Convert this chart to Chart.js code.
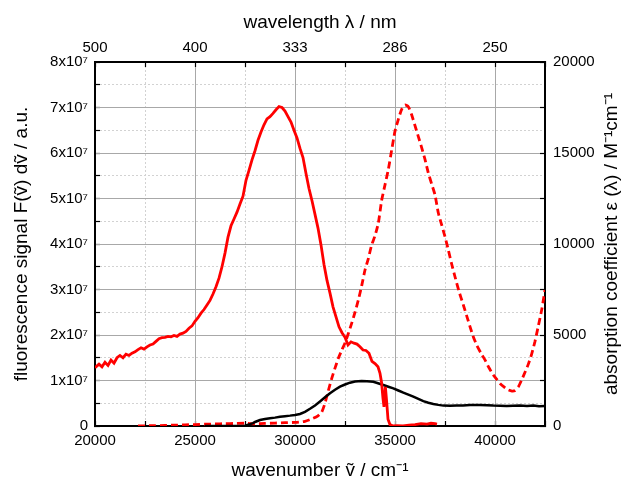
<!DOCTYPE html>
<html>
<head>
<meta charset="utf-8">
<script src="https://cdn.jsdelivr.net/npm/chart.js@4/dist/chart.umd.min.js"></script>
<style>
  body { margin: 0; background: #fff; }
  #wrap { width: 625px; height: 480px; }
</style>
</head>
<body>
<div id="wrap"><canvas id="spectraChart"></canvas></div>
<script>
// fluorescence signal (units of 1e7, left axis)
const fluorWn = [20000, 20200, 20350, 20500, 20650, 20800, 20950, 21100, 21250, 21400, 21550, 21700, 21850, 22000, 22150, 22300, 22450, 22600, 22750, 22900, 23050, 23200, 23350, 23500, 23650, 23800, 23950, 24100, 24250, 24400, 24550, 24700, 24850, 25000, 25150, 25300, 25450, 25600, 25750, 25900, 26050, 26200, 26350, 26500, 26650, 26800, 26950, 27100, 27250, 27400, 27550, 27700, 27850, 28000, 28150, 28300, 28450, 28600, 28750, 28900, 29050, 29200, 29350, 29500, 29650, 29800, 29950, 30100, 30250, 30400, 30550, 30700, 30850, 31000, 31150, 31300, 31450, 31600, 31750, 31900, 32050, 32200, 32350, 32500, 32650, 32800, 32950, 33100, 33250, 33400, 33550, 33700, 33850, 34000, 34150, 34250, 34330, 34400, 34450, 34520, 34580, 34650, 34750, 34900, 35100, 35400, 35700, 36000, 36300, 36600, 36800, 37000, 37100];
const fluorVal = [1.28, 1.36, 1.30, 1.40, 1.33, 1.45, 1.38, 1.50, 1.55, 1.50, 1.58, 1.55, 1.60, 1.63, 1.68, 1.72, 1.69, 1.74, 1.78, 1.80, 1.86, 1.92, 1.94, 1.95, 1.97, 1.96, 1.99, 1.97, 2.02, 2.04, 2.08, 2.15, 2.20, 2.30, 2.38, 2.48, 2.56, 2.66, 2.76, 2.90, 3.06, 3.25, 3.50, 3.80, 4.15, 4.40, 4.55, 4.70, 4.88, 5.05, 5.40, 5.62, 5.85, 6.05, 6.28, 6.46, 6.62, 6.75, 6.80, 6.87, 6.95, 7.02, 7.00, 6.92, 6.80, 6.68, 6.50, 6.33, 6.10, 5.90, 5.55, 5.22, 4.95, 4.65, 4.35, 3.98, 3.55, 3.20, 2.92, 2.62, 2.40, 2.18, 2.05, 1.95, 1.78, 1.85, 1.82, 1.80, 1.74, 1.67, 1.66, 1.60, 1.42, 1.37, 1.30, 1.16, 0.95, 0.60, 0.42, 0.86, 0.55, 0.15, 0.03, 0.00, 0.01, 0.00, 0.02, 0.03, 0.05, 0.04, 0.06, 0.05, 0.04];

// absorption coefficient, dashed red (right axis)
const absWn = [22150, 22500, 23000, 23500, 24000, 24500, 25000, 25500, 26000, 26500, 27000, 27500, 28000, 28500, 29000, 29500, 30000, 30500, 30900, 31150, 31333, 31500, 31667, 31833, 32000, 32167, 32333, 32500, 32667, 32833, 33000, 33167, 33333, 33500, 33667, 33833, 34000, 34167, 34333, 34500, 34667, 34833, 35000, 35167, 35333, 35500, 35667, 35833, 36000, 36167, 36333, 36500, 36667, 36833, 37000, 37167, 37333, 37500, 37667, 37833, 38000, 38200, 38417, 38600, 38750, 38900, 39083, 39300, 39500, 39700, 39917, 40100, 40250, 40450, 40667, 40850, 41000, 41167, 41333, 41500, 41667, 41833, 42000, 42167, 42333, 42500];
const absVal = [0, 10, 20, 30, 50, 60, 80, 100, 110, 130, 140, 150, 120, 140, 160, 180, 200, 260, 420, 560, 760, 1250, 1950, 2600, 3180, 3720, 4150, 4560, 5080, 5640, 6250, 6920, 7700, 8570, 9200, 9950, 10450, 11150, 12400, 13250, 14100, 15160, 16200, 16850, 17400, 17640, 17540, 17100, 16500, 15900, 15300, 14650, 13900, 13300, 12700, 11700, 11050, 10400, 9670, 8900, 8200, 7400, 6650, 6000, 5460, 4950, 4450, 4000, 3630, 3200, 2800, 2550, 2340, 2150, 1980, 1920, 1950, 2150, 2530, 2950, 3400, 3950, 4650, 5500, 6370, 7470];

// second absorption trace, black (right axis)
const blackWn = [25500, 26000, 26500, 27000, 27500, 27750, 27900, 28000, 28250, 28500, 28750, 29000, 29250, 29500, 29750, 30000, 30250, 30500, 30750, 31000, 31250, 31500, 31750, 32000, 32250, 32500, 32750, 33000, 33333, 33600, 33917, 34150, 34417, 34667, 34917, 35167, 35417, 35667, 35917, 36167, 36417, 36667, 36917, 37167, 37417, 37750, 38083, 38400, 38750, 39000, 39250, 39600, 39917, 40250, 40583, 40900, 41250, 41600, 41917, 42200, 42500];
const blackVal = [0, 0, 0, 0, 20, 100, 160, 220, 330, 380, 420, 460, 510, 540, 570, 610, 660, 780, 950, 1130, 1350, 1580, 1800, 1990, 2160, 2280, 2380, 2440, 2470, 2460, 2430, 2350, 2250, 2160, 2070, 1950, 1830, 1720, 1610, 1490, 1370, 1280, 1210, 1160, 1120, 1110, 1120, 1130, 1150, 1160, 1150, 1140, 1120, 1110, 1100, 1110, 1120, 1100, 1130, 1090, 1100];

// tick labels
const bottomTickLabels = { 20000: "20000", 25000: "25000", 30000: "30000", 35000: "35000", 40000: "40000" };
const topTickLabels = { 20000: "500", 25000: "400", 30000: "333", 35000: "286", 40000: "250" };
const leftTickLabels = ["0", "1x10⁷", "2x10⁷", "3x10⁷", "4x10⁷", "5x10⁷", "6x10⁷", "7x10⁷", "8x10⁷"];
const rightTickLabels = { 0: "0", 5000: "5000", 10000: "10000", 15000: "15000", 20000: "20000" };

const FONT = "'Liberation Sans', Arial, sans-serif";
const MAJOR = "#a8a8a8";
const MINOR = "#d2d2d2";
const CLEAR = "rgba(0,0,0,0)";

function pts(xs, ys) {
    return xs.map((x, i) => ({ x: x, y: ys[i] }));
}

// right axis title reads bottom-to-top
const rightTitle = {
    id: "rightTitle",
    afterDraw(chart) {
        const c = chart.ctx;
        const a = chart.chartArea;
        c.save();
        c.translate(612, (a.top + a.bottom) / 2);
        c.rotate(-Math.PI / 2);
        c.font = "19px " + FONT;
        c.fillStyle = "#000";
        c.textAlign = "center";
        c.textBaseline = "middle";
        c.fillText("absorption coefficient ε (λ) / M⁻¹cm⁻¹", 0, 0);
        c.restore();
    }
};

const ctx = document.getElementById("spectraChart").getContext("2d");
new Chart(ctx, {
    type: "line",
    data: {
        datasets: [
            {
                label: "fluorescence",
                data: pts(fluorWn, fluorVal),
                yAxisID: "y",
                borderColor: "#ff0000",
                borderWidth: 2.8,
                pointRadius: 0,
                tension: 0,
            },
            {
                label: "absorption 2",
                data: pts(blackWn, blackVal),
                yAxisID: "y2",
                borderColor: "#000000",
                borderWidth: 2.5,
                pointRadius: 0,
                tension: 0,
            },
            {
                label: "absorption",
                data: pts(absWn, absVal),
                yAxisID: "y2",
                borderColor: "#ff0000",
                borderWidth: 2.8,
                borderDash: [7, 4],
                pointRadius: 0,
                tension: 0.2,
            },
        ],
    },
    options: {
        responsive: true,
        maintainAspectRatio: false,
        animation: false,
        layout: { padding: 0 },
        plugins: { legend: { display: false }, tooltip: { enabled: false } },
        scales: {
            x: {
                type: "linear",
                position: "bottom",
                min: 20000,
                max: 42500,
                afterFit: (s) => { s.height = 54; },
                ticks: {
                    stepSize: 2500,
                    autoSkip: false,
                    maxRotation: 0,
                    padding: 11,
                    color: "#000",
                    font: { family: FONT, size: 15 },
                    callback: (v) => bottomTickLabels[v] || "",
                },
                grid: {
                    color: (c) => (c.tick && c.tick.value % 5000 !== 0 ? MINOR : CLEAR),
                    lineWidth: 1,
                    tickLength: -5,
                    tickColor: "#000",
                    tickWidth: 1.2,
                },
                border: { color: "#000", width: 2, dash: [2, 2] },
                title: {
                    display: true,
                    text: "wavenumber ṽ / cm⁻¹",
                    color: "#000",
                    font: { family: FONT, size: 19 },
                    padding: { top: 0, bottom: -2 },
                },
            },
            x2: {
                type: "linear",
                position: "top",
                min: 20000,
                max: 42500,
                afterFit: (s) => { s.height = 62; },
                ticks: {
                    stepSize: 2500,
                    autoSkip: false,
                    maxRotation: 0,
                    padding: 10,
                    color: "#000",
                    font: { family: FONT, size: 15 },
                    callback: (v) => topTickLabels[v] || "",
                },
                grid: {
                    color: (c) => (c.tick && c.tick.value % 5000 === 0 ? MAJOR : CLEAR),
                    lineWidth: 1,
                    tickLength: -5,
                    tickColor: "#000",
                    tickWidth: 1.2,
                },
                border: { color: "#000", width: 2 },
                title: {
                    display: true,
                    text: "wavelength λ / nm",
                    color: "#000",
                    font: { family: FONT, size: 19 },
                    padding: { top: 11, bottom: 0 },
                },
            },
            y: {
                type: "linear",
                position: "left",
                min: 0,
                max: 8,
                afterFit: (s) => { s.width = 95; },
                ticks: {
                    stepSize: 0.5,
                    autoSkip: false,
                    padding: 12,
                    color: "#000",
                    font: { family: FONT, size: 15 },
                    callback: (v) => (Number.isInteger(v) ? leftTickLabels[v] : ""),
                },
                grid: {
                    color: (c) => (c.tick && !Number.isInteger(c.tick.value) ? MINOR : CLEAR),
                    lineWidth: 1,
                    tickLength: -5,
                    tickColor: "#000",
                    tickWidth: 1.2,
                },
                border: { color: "#000", width: 2, dash: [2, 2] },
                title: {
                    display: true,
                    text: "fluorescence signal F(ṽ) dṽ / a.u.",
                    color: "#000",
                    font: { family: FONT, size: 19 },
                    padding: { top: 10, bottom: 0 },
                },
            },
            y2: {
                type: "linear",
                position: "right",
                min: 0,
                max: 20000,
                afterFit: (s) => { s.width = 80; },
                ticks: {
                    stepSize: 2500,
                    autoSkip: false,
                    padding: 13,
                    color: "#000",
                    font: { family: FONT, size: 15 },
                    callback: (v) => (rightTickLabels[v] !== undefined ? rightTickLabels[v] : ""),
                },
                grid: {
                    color: MAJOR,
                    lineWidth: 1,
                    tickLength: -5,
                    tickColor: "#000",
                    tickWidth: 1.2,
                },
                border: { color: "#000", width: 2 },
            },
        },
    },
    plugins: [rightTitle],
});
</script>
</body>
</html>
